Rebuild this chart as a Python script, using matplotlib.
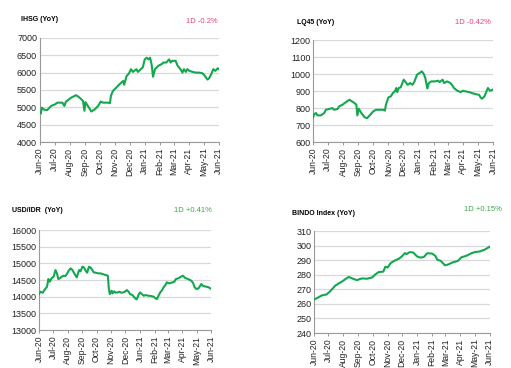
import pandas as pd
import matplotlib
matplotlib.use('Agg')
import matplotlib.pyplot as plt

plt.rcParams['font.family'] = ['Liberation Sans', 'DejaVu Sans']

# ---- data ----
ihsg_dates = ['2020-06-01', '2020-06-03', '2020-06-05', '2020-06-10', '2020-06-16', '2020-06-24',
              '2020-07-01', '2020-07-07', '2020-07-17', '2020-07-21', '2020-07-24', '2020-08-04',
              '2020-08-14', '2020-08-21', '2020-08-28', '2020-08-31', '2020-09-02', '2020-09-07',
              '2020-09-14', '2020-09-21', '2020-09-28', '2020-10-03', '2020-10-08', '2020-10-18',
              '2020-10-22', '2020-10-24', '2020-10-28', '2020-11-04', '2020-11-11', '2020-11-18',
              '2020-11-20', '2020-11-25', '2020-11-30', '2020-12-04', '2020-12-08', '2020-12-15',
              '2020-12-18', '2020-12-24', '2020-12-28', '2021-01-01', '2021-01-05', '2021-01-09',
              '2021-01-12', '2021-01-15', '2021-01-18', '2021-01-22', '2021-01-29', '2021-02-04',
              '2021-02-08', '2021-02-14', '2021-02-17', '2021-02-20', '2021-02-23', '2021-02-26',
              '2021-03-05', '2021-03-09', '2021-03-12', '2021-03-15', '2021-03-19', '2021-03-22',
              '2021-03-26', '2021-03-29', '2021-04-02', '2021-04-09', '2021-04-15', '2021-04-22',
              '2021-04-29', '2021-05-03', '2021-05-09', '2021-05-12', '2021-05-17', '2021-05-21',
              '2021-05-25', '2021-05-30', '2021-06-01']
ihsg_vals = [4860, 4820, 4990, 4930, 4920, 5040,
             5080, 5135, 5135, 5040, 5160, 5280,
             5350, 5280, 5185, 4900, 5150, 5040,
             4880, 4940, 5040, 5165, 5135, 5135,
             5120, 5330, 5470, 5570, 5670, 5760,
             5650, 5900, 5980, 6100, 6020, 6100,
             6020, 6100, 6150, 6380, 6430, 6380,
             6430, 6240, 5880, 6100, 6200, 6240,
             6290, 6290, 6340, 6380, 6290, 6340,
             6340, 6200, 6150, 6100, 6000, 6100,
             6020, 6100, 6050, 6020, 6000, 6000,
             5980, 5920, 5800, 5830, 5960, 6100,
             6050, 6125, 6100]

lq45_dates = ['2020-06-01', '2020-06-04', '2020-06-07', '2020-06-10', '2020-06-17', '2020-06-24',
              '2020-06-27', '2020-07-04', '2020-07-10', '2020-07-14', '2020-07-21', '2020-07-24',
              '2020-07-31', '2020-08-07', '2020-08-14', '2020-08-17', '2020-08-24', '2020-08-28',
              '2020-08-30', '2020-09-02', '2020-09-07', '2020-09-14', '2020-09-19', '2020-09-24',
              '2020-10-01', '2020-10-07', '2020-10-14', '2020-10-21', '2020-10-25', '2020-10-27',
              '2020-11-01', '2020-11-06', '2020-11-10', '2020-11-14', '2020-11-17', '2020-11-19',
              '2020-11-22', '2020-11-26', '2020-11-28', '2020-12-02', '2020-12-05', '2020-12-10',
              '2020-12-15', '2020-12-20', '2020-12-24', '2020-12-29', '2021-01-03', '2021-01-08',
              '2021-01-12', '2021-01-15', '2021-01-19', '2021-01-22', '2021-01-27', '2021-02-03',
              '2021-02-10', '2021-02-13', '2021-02-19', '2021-02-22', '2021-02-28', '2021-03-07',
              '2021-03-10', '2021-03-14', '2021-03-21', '2021-03-28', '2021-04-01', '2021-04-07',
              '2021-04-14', '2021-04-20', '2021-04-27', '2021-05-04', '2021-05-07', '2021-05-10',
              '2021-05-15', '2021-05-19', '2021-05-22', '2021-05-26', '2021-06-01']
lq45_vals = [745, 765, 771, 757, 757, 771,
             790, 795, 800, 790, 795, 810,
             820, 835, 849, 843, 830, 820,
             757, 796, 771, 745, 741, 757,
             780, 790, 790, 790, 785, 820,
             863, 869, 888, 898, 918, 894,
             918, 922, 937, 967, 957, 937,
             947, 937, 957, 996, 1006, 1016,
             1000, 976, 915, 947, 957, 957,
             961, 953, 967, 947, 957, 947,
             937, 918, 902, 894, 902, 898,
             894, 888, 882, 878, 863, 855,
             869, 898, 918, 902, 908]

usd_dates = ['2020-06-01', '2020-06-04', '2020-06-09', '2020-06-14', '2020-06-18', '2020-06-21',
             '2020-06-24', '2020-06-28', '2020-07-02', '2020-07-06', '2020-07-09', '2020-07-12',
             '2020-07-16', '2020-07-19', '2020-07-23', '2020-07-27', '2020-07-30', '2020-08-03',
             '2020-08-07', '2020-08-11', '2020-08-14', '2020-08-17', '2020-08-20', '2020-08-25',
             '2020-08-28', '2020-09-01', '2020-09-04', '2020-09-08', '2020-09-11', '2020-09-15',
             '2020-09-18', '2020-09-22', '2020-09-25', '2020-09-29', '2020-10-05', '2020-10-09',
             '2020-10-14', '2020-10-20', '2020-10-25', '2020-10-27', '2020-10-29', '2020-11-02',
             '2020-11-04', '2020-11-07', '2020-11-11', '2020-11-15', '2020-11-18', '2020-11-23',
             '2020-11-27', '2020-12-01', '2020-12-04', '2020-12-08', '2020-12-11', '2020-12-16',
             '2020-12-22', '2020-12-25', '2020-12-29', '2021-01-01', '2021-01-05', '2021-01-09',
             '2021-01-13', '2021-01-19', '2021-01-25', '2021-01-30', '2021-02-03', '2021-02-06',
             '2021-02-10', '2021-02-13', '2021-02-17', '2021-02-20', '2021-02-24', '2021-02-27',
             '2021-03-04', '2021-03-11', '2021-03-15', '2021-03-18', '2021-03-23', '2021-03-29',
             '2021-04-02', '2021-04-07', '2021-04-13', '2021-04-20', '2021-04-24', '2021-04-27',
             '2021-05-01', '2021-05-05', '2021-05-11', '2021-05-15', '2021-05-22', '2021-05-27',
             '2021-06-01']
usd_vals = [14080, 14150, 14120, 14230, 14300, 14530,
            14450, 14560, 14600, 14800, 14700, 14530,
            14560, 14600, 14630, 14620, 14680, 14780,
            14850, 14800, 14720, 14650, 14580, 14800,
            14760, 14900, 14880, 14780, 14720, 14900,
            14880, 14800, 14730, 14720, 14700, 14700,
            14680, 14650, 14630, 14250, 14080, 14180,
            14100, 14160, 14120, 14130, 14150, 14120,
            14130, 14160, 14200, 14150, 14080, 14050,
            13950, 13920, 14050, 14130, 14080, 14030,
            14050, 14030, 14020, 14000, 13950, 13930,
            14050, 14130, 14200, 14280, 14350, 14430,
            14400, 14430, 14450, 14530, 14550, 14600,
            14630, 14560, 14530, 14480, 14400, 14280,
            14230, 14250, 14380, 14320, 14300, 14280,
            14230]

bindo_dates = ['2020-06-01', '2020-06-10', '2020-06-17', '2020-06-27', '2020-07-04', '2020-07-11',
               '2020-07-15', '2020-07-22', '2020-07-29', '2020-08-05', '2020-08-12', '2020-08-16',
               '2020-08-23', '2020-08-30', '2020-09-03', '2020-09-09', '2020-09-19', '2020-09-30',
               '2020-10-06', '2020-10-13', '2020-10-23', '2020-10-27', '2020-11-01', '2020-11-07',
               '2020-11-14', '2020-11-24', '2020-11-30', '2020-12-07', '2020-12-10', '2020-12-17',
               '2020-12-24', '2021-01-01', '2021-01-08', '2021-01-15', '2021-01-22', '2021-02-01',
               '2021-02-08', '2021-02-12', '2021-02-19', '2021-02-22', '2021-02-28', '2021-03-06',
               '2021-03-16', '2021-03-27', '2021-04-03', '2021-04-13', '2021-04-24', '2021-05-01',
               '2021-05-11', '2021-05-21', '2021-06-01']
bindo_vals = [263.0, 264.5, 265.8, 266.5, 268.5, 271.0,
              272.5, 274.0, 275.3, 277.0, 278.5, 278.0,
              277.0, 276.3, 277.0, 277.5, 277.3, 278.2,
              280.2, 281.8, 282.2, 285.5, 285.0, 288.0,
              289.5, 291.0, 292.5, 294.9, 294.2, 295.6,
              295.3, 292.6, 291.8, 292.2, 294.8, 294.6,
              293.0, 290.3, 289.6, 288.5, 286.5, 287.0,
              288.5, 289.6, 292.0, 293.0, 294.8, 295.6,
              296.0, 297.2, 299.3]

month_ticks = ['2020-06-01', '2020-07-01', '2020-08-01', '2020-09-01', '2020-10-01', '2020-11-01',
               '2020-12-01', '2021-01-01', '2021-02-01', '2021-03-01', '2021-04-01', '2021-05-01',
               '2021-06-01']
month_labels = ['Jun-20', 'Jul-20', 'Aug-20', 'Sep-20', 'Oct-20', 'Nov-20', 'Dec-20',
                'Jan-21', 'Feb-21', 'Mar-21', 'Apr-21', 'May-21', 'Jun-21']
# the USD/IDR panel in the source labels January as "Jun-21"
usd_labels = month_labels[:7] + ['Jun-21'] + month_labels[8:]

GREEN = '#13a84f'
PINK = '#ee3d7c'
UP = '#3aa842'

fig = plt.figure(figsize=(5.11, 3.68), dpi=100)

panels = [
    # rect, dates, values, ylim, yticks, labels
    ([0.078, 0.614, 0.350, 0.283], ihsg_dates, ihsg_vals, (4000, 7000), range(4000, 7001, 500), month_labels),
    ([0.6125, 0.614, 0.352, 0.277], lq45_dates, lq45_vals, (600, 1200), range(600, 1201, 100), month_labels),
    ([0.0763, 0.103, 0.337, 0.272], usd_dates, usd_vals, (13000, 16000), range(13000, 16001, 500), usd_labels),
    ([0.6145, 0.095, 0.344, 0.277], bindo_dates, bindo_vals, (240, 310), range(240, 311, 10), month_labels),
]

for rect, dts, vals, ylim, yticks, labels in panels:
    ax = fig.add_axes(rect)
    ax.plot(pd.to_datetime(dts), vals, color=GREEN, linewidth=1.5, zorder=3)
    ax.set_ylim(*ylim)
    ax.set_yticks(list(yticks))
    ax.set_xlim(pd.Timestamp('2020-06-01'), pd.Timestamp('2021-06-01'))
    ax.set_xticks(pd.to_datetime(month_ticks))
    ax.set_xticklabels(labels, rotation=90, fontsize=6.2)
    ax.tick_params(axis='y', length=0, labelsize=6.5, pad=2, labelcolor='#222222')
    ax.tick_params(axis='x', length=2.5, width=0.6, color='#888888', pad=1.5, labelcolor='#222222')
    ax.grid(axis='y', color='#d9d9d9', linewidth=0.9)
    ax.set_axisbelow(True)
    for s in ['top', 'right']:
        ax.spines[s].set_visible(False)
    for s in ['left', 'bottom']:
        ax.spines[s].set_color('#999999')
        ax.spines[s].set_linewidth(0.8)

# titles and daily change notes
fig.text(0.041, 0.946, 'IHSG (YoY)', fontsize=5, fontweight='bold', va='center')
fig.text(0.364, 0.942, '1D -0.2%', fontsize=5.5, color=PINK, va='center')
fig.text(0.581, 0.940, 'LQ45 (YoY)', fontsize=5, fontweight='bold', va='center')
fig.text(0.890, 0.940, '1D -0.42%', fontsize=5.5, color=PINK, va='center')
fig.text(0.0235, 0.429, 'USD/IDR  (YoY)', fontsize=5, fontweight='bold', va='center')
fig.text(0.340, 0.429, '1D +0.41%', fontsize=5.5, color=UP, va='center')
fig.text(0.571, 0.421, 'BINDO Index (YoY)', fontsize=5, fontweight='bold', va='center')
fig.text(0.908, 0.432, '1D +0.15%', fontsize=5.5, color=UP, va='center')

fig.savefig('out.png', dpi=100)
